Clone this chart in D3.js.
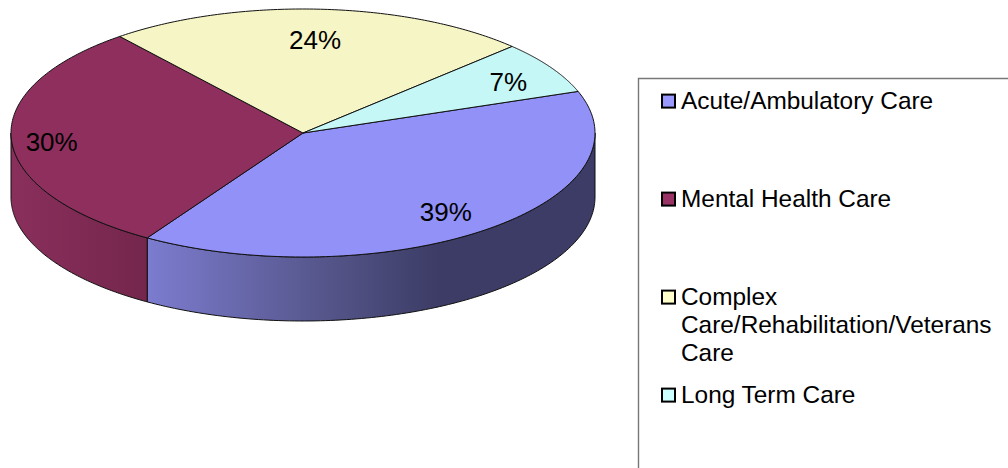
<!DOCTYPE html>
<html>
<head>
<meta charset="utf-8">
<script src="https://cdn.jsdelivr.net/npm/d3@7"></script>
<style>
  html, body { margin: 0; padding: 0; background: #fff; overflow: hidden; }
  text { font-family: "Liberation Sans", Arial, sans-serif; fill: #000; }
</style>
</head>
<body>
<div id="chart"></div>
<script>
// values (labels round them)
const categories = ["Acute/Ambulatory Care", "Mental Health Care", "Complex Care/Rehabilitation/Veterans Care", "Long Term Care"];
const shares = [39.4, 30.25, 23.5, 6.85];
const legendLines = [["Acute/Ambulatory Care"], ["Mental Health Care"], ["Complex", "Care/Rehabilitation/Veterans", "Care"], ["Long Term Care"]];
const topColors = ["#9191f7", "#8f2f5e", "#f6f5c5", "#c4f7f5"];
const legendColors = ["#9999ff", "#993366", "#ffffcc", "#ccffff"];
const wallStops = [
  [["#7c7cd0", 0], ["#55558a", 0.4], ["#3c3c66", 0.65], ["#3c3c66", 1]],
  [["#8a2f5c", 0], ["#74264c", 1]],
];

const width = 1008, height = 468;
const cx = 303, cy = 133, rx = 292, ry = 124, depth = 64;
const startAngle = 70.4 * Math.PI / 180;
const labelRadius = 0.8;
const labelNudge = [[-3.2, 0.8], [-18.1, 2.6], [-2, 6], [7.1, 1.1]];

const svg = d3.select("#chart").append("svg")
  .attr("width", width).attr("height", height)
  .style("display", "block");

const pie = d3.pie().sort(null)
  .startAngle(startAngle).endAngle(startAngle + 2 * Math.PI);
const slices = pie(shares);

// unit circle -> tilted disc, angle clockwise from 12 o'clock
const project = (a, r = 1, dz = 0) => [cx + rx * r * Math.sin(a), cy - ry * r * Math.cos(a) + dz];
const line = d3.line();
const arcPoints = (a0, a1, dz = 0) => d3.range(0, 121).map((i) => project(a0 + (a1 - a0) * i / 120, 1, dz));

// side wall gradients
const defs = svg.append("defs");
const wallSpans = [
  { slice: 0, a0: Math.PI / 2, a1: slices[0].endAngle, id: "wall-blue" },
  { slice: 1, a0: slices[1].startAngle, a1: 3 * Math.PI / 2, id: "wall-red" },
];
wallSpans.forEach((w, i) => {
  const xs = [project(w.a0)[0], project(w.a1)[0]];
  const grad = defs.append("linearGradient").attr("id", w.id)
    .attr("gradientUnits", "userSpaceOnUse")
    .attr("x1", xs[1]).attr("x2", xs[0])
    .attr("y1", 0).attr("y2", 0);
  grad.selectAll("stop").data(wallStops[i]).join("stop")
    .attr("offset", (d) => d[1]).attr("stop-color", (d) => d[0]);
});

svg.append("g").selectAll("path").data(wallSpans).join("path")
  .attr("d", (w) => {
    const pts = arcPoints(w.a0, w.a1).concat(arcPoints(w.a1, w.a0, depth));
    return line(pts) + "Z";
  })
  .attr("fill", (w) => `url(#${w.id})`)
  .attr("stroke", "#111").attr("stroke-width", 1).attr("stroke-linejoin", "round");

// top faces
svg.append("g").selectAll("path").data(slices).join("path")
  .attr("d", (d) => line([[cx, cy]].concat(arcPoints(d.startAngle, d.endAngle))) + "Z")
  .attr("fill", (d, i) => topColors[i])
  .attr("stroke", "#111").attr("stroke-width", 1).attr("stroke-linejoin", "round");

// percent labels
svg.append("g").selectAll("text").data(slices).join("text")
  .attr("x", (d, i) => project((d.startAngle + d.endAngle) / 2, labelRadius)[0] + labelNudge[i][0])
  .attr("y", (d, i) => project((d.startAngle + d.endAngle) / 2, labelRadius)[1] + labelNudge[i][1])
  .attr("dy", "0.36em")
  .attr("text-anchor", "middle")
  .attr("font-size", 26)
  .text((d) => Math.round(d.value) + "%");

// legend box runs off the page on the right and at the bottom
svg.append("path")
  .attr("d", `M${width + 2},78.5H638.5V${height + 2}`)
  .attr("fill", "none").attr("stroke", "#777").attr("stroke-width", 1.4);

const legendY = d3.scaleLinear().domain([0, 3]).range([108.6, 402.6]);
const legend = svg.append("g").selectAll("g").data(categories).join("g")
  .attr("transform", (d, i) => `translate(0,${legendY(i)})`);
legend.append("rect")
  .attr("x", 662).attr("y", -14).attr("width", 13).attr("height", 13)
  .attr("fill", (d, i) => legendColors[i])
  .attr("stroke", "#000").attr("stroke-width", 2);
legend.append("text")
  .attr("font-size", 24.4)
  .selectAll("tspan").data((d, i) => legendLines[i]).join("tspan")
  .attr("x", 681).attr("y", (d, i) => i * 28)
  .text((d) => d);
</script>
</body>
</html>
